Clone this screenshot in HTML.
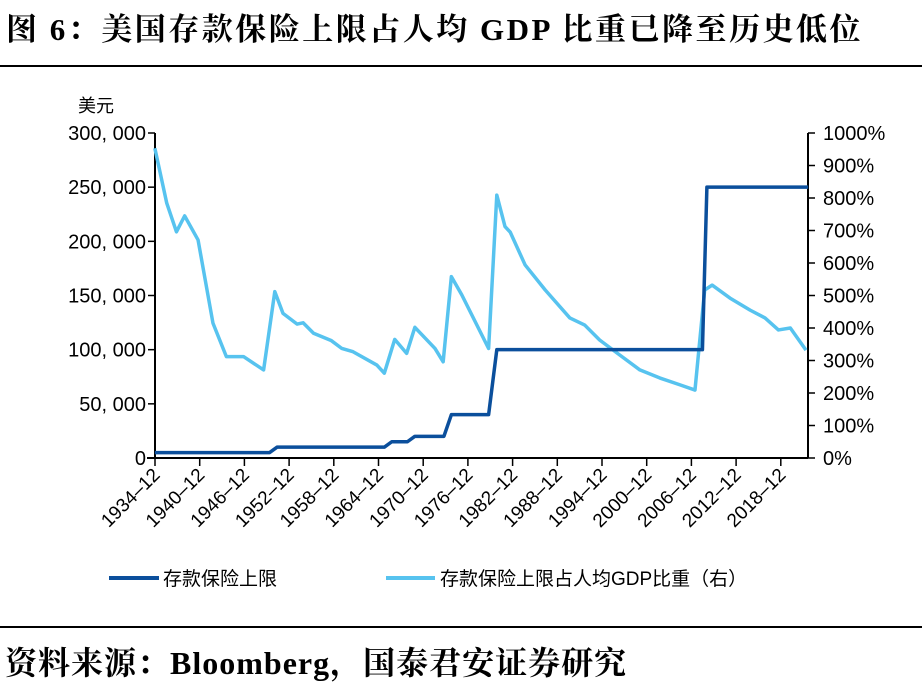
<!DOCTYPE html>
<html><head><meta charset="utf-8"><style>
body{margin:0;background:#fff;width:922px;height:682px;overflow:hidden;position:relative;font-family:"Liberation Serif","Noto Serif CJK SC",serif}
.t{position:absolute;white-space:nowrap}
</style></head><body>
<div class="t" style="left:6px;top:4px;font-size:31px;font-weight:bold;letter-spacing:2.5px">图 6：美国存款保险上限占人均 GDP 比重已降至历史低位</div>
<div style="position:absolute;left:0;top:65px;width:922px;height:2px;background:#000"></div>
<svg id="c" width="922" height="682" style="position:absolute;left:0;top:0" font-family="Liberation Sans, Noto Sans CJK SC, sans-serif"></svg>
<div style="position:absolute;left:0;top:626px;width:922px;height:2px;background:#000"></div>
<div class="t" style="left:5px;top:638px;font-size:32px;font-weight:bold;letter-spacing:1px">资料来源：Bloomberg，国泰君安证券研究</div>
<script>
const capYears=[1934.9,1950.3,1951.3,1965.7,1966.7,1968.8,1969.8,1973.7,1974.7,1979.7,1980.8,2008.4,2009.0,2022.6];
const capValues=[5000,5000,10000,10000,15000,15000,20000,20000,40000,40000,100000,100000,250000,250000];
const ratioYears=[1934.9,1936.5,1937.8,1938.9,1940.7,1942.7,1944.5,1946.8,1949.5,1951,1952.1,1954,1954.8,1956.2,1958.6,1960,1961.5,1964.7,1965.7,1967.1,1968.7,1969.8,1972.5,1973.6,1974.7,1976.1,1979.7,1980.8,1981.9,1982.6,1984.6,1987.3,1990.6,1992.6,1994.6,1997.3,2000,2002.7,2005.4,2007.4,2008.7,2009.7,2012.1,2014.8,2016.8,2018.6,2020.2,2022.3];
const ratioValues=[953,784,696,745,671,415,312,312,271,512,445,412,416,384,361,337,327,286,261,365,322,402,337,296,558,502,337,809,712,695,594,517,431,409,363,317,271,246,225,209,517,532,492,455,431,394,400,332];
const leftTicks=[0,50000,100000,150000,200000,250000,300000];
const leftLabels=["0","50, 000","100, 000","150, 000","200, 000","250, 000","300, 000"];
const rightTicks=[0,100,200,300,400,500,600,700,800,900,1000];
const xTickYears=[1934.92,1940.92,1946.92,1952.92,1958.92,1964.92,1970.92,1976.92,1982.92,1988.92,1994.92,2000.92,2006.92,2012.92,2018.92];
const xLabels=["1934–12","1940–12","1946–12","1952–12","1958–12","1964–12","1970–12","1976–12","1982–12","1988–12","1994–12","2000–12","2006–12","2012–12","2018–12"];

const X0=155,X1=808,Y0=458,Y1=133;
const x=y=>X0+(y-1934.92)*7.45;
const yl=v=>Y0-(v/300000)*(Y0-Y1);
const yr=v=>Y0-(v/1000)*(Y0-Y1);
const svg=document.getElementById('c');
const NS='http://www.w3.org/2000/svg';
function mk(tag,at,txt){const e=document.createElementNS(NS,tag);for(const k in at)e.setAttribute(k,at[k]);if(txt!==undefined)e.textContent=txt;svg.appendChild(e);return e;}

let e=mk('line',{x1:X0,y1:Y1,x2:X0,y2:Y0,stroke:'#000','stroke-width':2});

e=mk('line',{x1:X1,y1:Y1,x2:X1,y2:Y0,stroke:'#000','stroke-width':2});

e=mk('line',{x1:X0-8,y1:Y0,x2:X1,y2:Y0,stroke:'#000','stroke-width':2});

e=mk('text',{x:78,y:112,'font-size':18},'美元');


leftTicks.forEach((v,i)=>{
  e=mk('line',{x1:X0-7,y1:yl(v),x2:X0,y2:yl(v),stroke:'#000','stroke-width':1.5});
  
  e=mk('text',{x:146,y:yl(v)+7,'font-size':20,'text-anchor':'end'},leftLabels[i]);
  
});
rightTicks.forEach(v=>{
  e=mk('line',{x1:X1,y1:yr(v),x2:X1+7,y2:yr(v),stroke:'#000','stroke-width':1.5});
  
  e=mk('text',{x:823,y:yr(v)+7,'font-size':20},v+'%');
  
});
xTickYears.forEach((yv,i)=>{
  const xx=x(yv);
  e=mk('line',{x1:xx,y1:Y0,x2:xx,y2:Y0+8,stroke:'#000','stroke-width':1.5});
  
  e=mk('text',{x:xx+6,y:Y0+18,'font-size':19,'text-anchor':'end',transform:`rotate(-45 ${xx+6} ${Y0+18})`},xLabels[i]);
  
});

e=mk('polyline',{points:ratioYears.map((yv,i)=>x(yv)+','+yr(ratioValues[i])).join(' '),fill:'none',stroke:'#57c3ef','stroke-width':3.5,'stroke-linejoin':'round'});

e=mk('polyline',{points:capYears.map((yv,i)=>x(yv)+','+yl(capValues[i])).join(' '),fill:'none',stroke:'#0b4f9c','stroke-width':3.5,'stroke-linejoin':'round'});


e=mk('line',{x1:109,y1:578,x2:159,y2:578,stroke:'#0b4f9c','stroke-width':4});

e=mk('text',{x:163,y:585,'font-size':19},'存款保险上限');

e=mk('line',{x1:386,y1:578,x2:435,y2:578,stroke:'#57c3ef','stroke-width':4});

e=mk('text',{x:440,y:585,'font-size':19},'存款保险上限占人均GDP比重（右）');

</script>
</body></html>
